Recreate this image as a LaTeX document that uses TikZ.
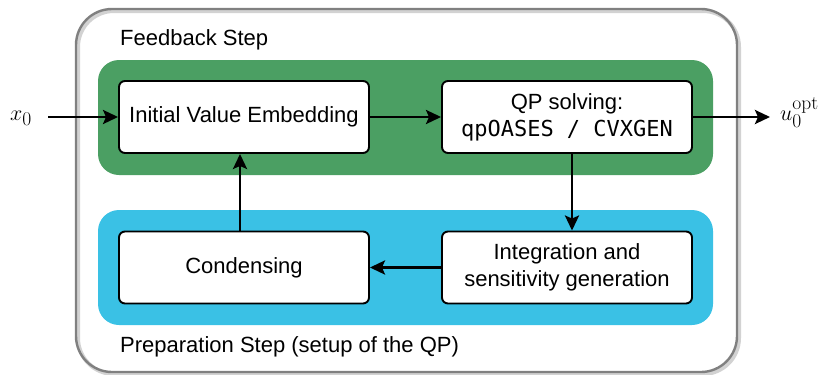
\RequirePackage{fix-cm}
\documentclass[tikz,border=0pt]{standalone}
\usepackage[no-math]{fontspec}
\setmainfont{Liberation Sans}
\setmonofont{DejaVu Sans Mono}
\usetikzlibrary{arrows.meta}
% large scripts for the signal labels
\DeclareMathSizes{22}{22}{19.5}{16}
\definecolor{fbgreen}{HTML}{4B9F63}
\definecolor{prepblue}{HTML}{3AC1E5}
\definecolor{framegray}{HTML}{808080}
\tikzset{
  block/.style={draw=black, line width=1.9pt, fill=white, rounded corners=6pt,
    minimum width=250pt, minimum height=72pt, align=center, inner sep=0pt,
    font=\fontsize{22}{27}\selectfont},
  arr/.style={line width=2.8pt, -{Stealth[length=15pt,width=14pt,inset=3pt]}},
  steplabel/.style={anchor=west, inner sep=0pt, font=\fontsize{22}{26}\selectfont},
  mathlabel/.style={inner sep=0pt, anchor=base west, font=\fontsize{22}{27}\selectfont}
}
\begin{document}
\begin{tikzpicture}[x=1pt,y=-1pt]
\useasboundingbox (0,0) rectangle (831,375);
% outer frame with a soft shadow
\draw[gray!35, line width=4pt, rounded corners=36pt] (78,11) rectangle (739,374);
\draw[framegray, line width=2.4pt, rounded corners=36pt] (76,9) rectangle (737,372);
% step backgrounds
\fill[fbgreen, rounded corners=21pt] (98,60) rectangle (713,175);
\fill[prepblue, rounded corners=21pt] (98,210) rectangle (713,325);
% step titles
\node[steplabel] (fbt) at (120,40) {Feedback Step};
\node[steplabel] (prt) at (120,347) {Preparation Step (setup of the QP)};
% blocks
\node[block] (ive) at (244,117) {Initial Value Embedding};
\node[block] (qp) at (567,117) {QP solving:\\\texttt{qpOASES / CVXGEN}};
\node[block] (cond) at (244,267.5) {Condensing};
\node[block] (integ) at (567,267.5) {Integration and\\sensitivity generation};
% input and output
\node[mathlabel] (x0) at (10,120.5) {$x_0$};
\node[mathlabel] (uopt) at (780,120.5) {$u_0^{\mathrm{opt}}$};
\coordinate (xin) at (48,117);
\coordinate (uout) at (770,117);
% connectors
\draw[arr] (xin) -- (ive.west);
\draw[arr] (ive.east) -- (qp.west);
\draw[arr] (qp.east) -- (uout);
\draw[arr] ([xshift=5pt]qp.south) -- ([xshift=5pt]integ.north);
\draw[arr] (integ.west) -- (cond.east);
\draw[arr] ([xshift=-4pt]cond.north) -- ([xshift=-4pt]ive.south);
\end{tikzpicture}
\end{document}
